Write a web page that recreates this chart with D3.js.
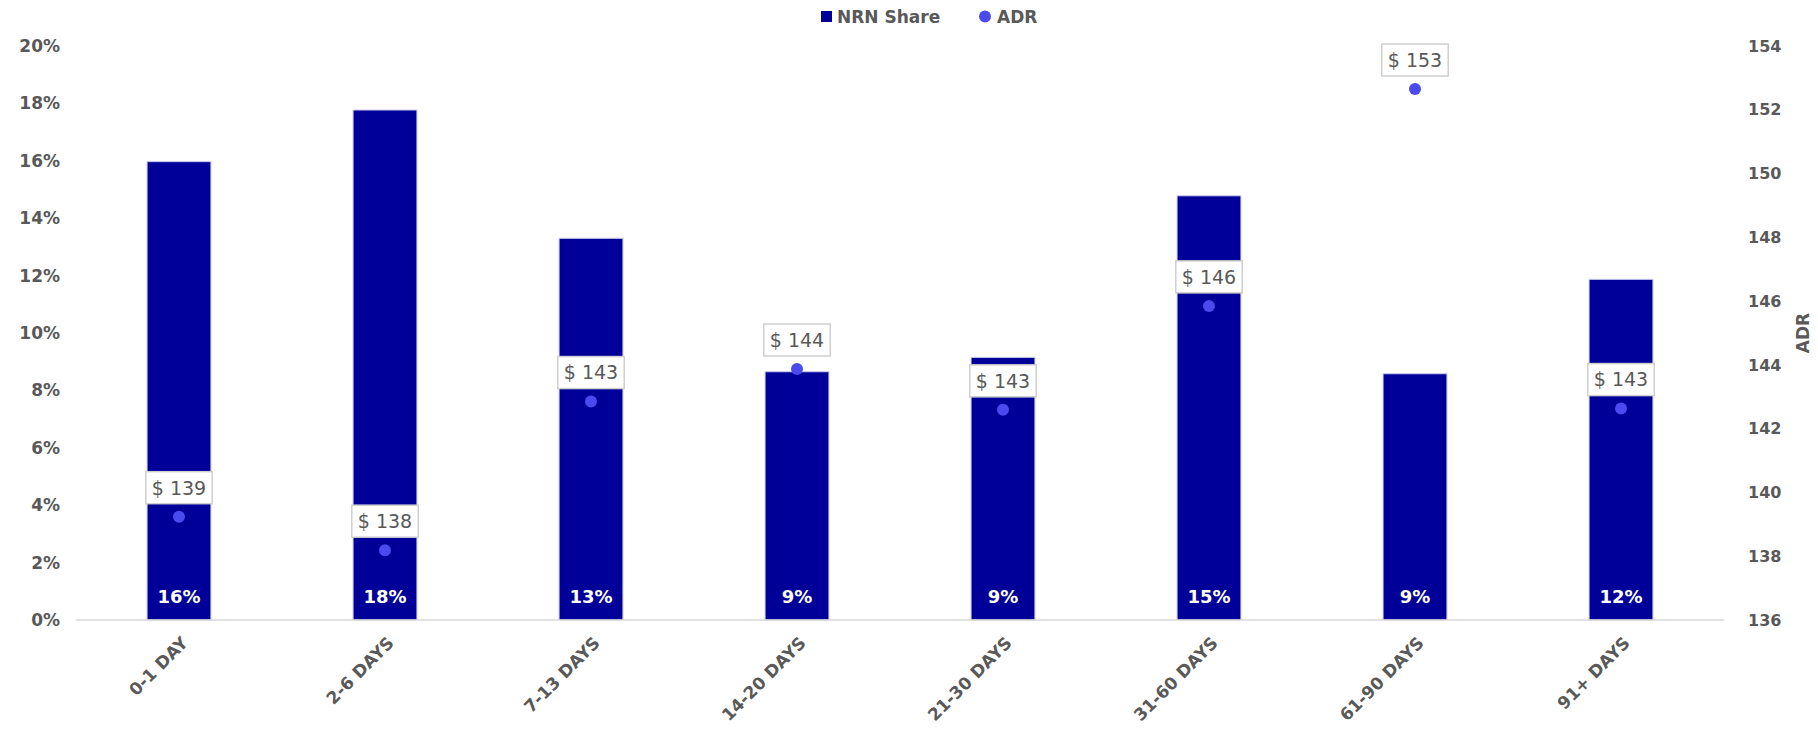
<!DOCTYPE html>
<html>
<head>
<meta charset="utf-8">
<script src="https://cdn.jsdelivr.net/npm/d3@7"></script>
<style>
  html, body { margin: 0; padding: 0; background: #ffffff; }
  svg { display: block; font-family: "DejaVu Sans", sans-serif; }
</style>
</head>
<body>
<svg id="chart" width="1818" height="731"></svg>
<script>
// ---- data ----
const categories = ["0-1 DAY", "2-6 DAYS", "7-13 DAYS", "14-20 DAYS", "21-30 DAYS", "31-60 DAYS", "61-90 DAYS", "91+ DAYS"];
const nrnShare = [15.97, 17.77, 13.30, 8.65, 9.15, 14.78, 8.58, 11.87];   // percent
const adr = [139.24, 138.19, 142.85, 143.87, 142.59, 145.85, 152.65, 142.63];
const leftTicks = [0, 2, 4, 6, 8, 10, 12, 14, 16, 18, 20];
const rightTicks = [136, 138, 140, 142, 144, 146, 148, 150, 152, 154];
const seriesNames = ["NRN Share", "ADR"];

// ---- layout ----
const W = 1818, H = 731;
const margin = { top: 46, right: 94, bottom: 111, left: 76 };
const barColor = "#000099";
const dotColor = "#4a4aef";
const textColor = "#595959";

const svg = d3.select("#chart");

const x = d3.scaleBand()
  .domain(categories)
  .range([margin.left, W - margin.right])
  .paddingInner(0.69)
  .paddingOuter(0.345);

const yL = d3.scaleLinear().domain([0, 20]).range([H - margin.bottom, margin.top]);
const yR = d3.scaleLinear().domain([136, 154]).range([H - margin.bottom, margin.top]);

// left axis
const axL = svg.append("g")
  .attr("transform", `translate(${margin.left},0)`)
  .call(d3.axisLeft(yL).tickValues(leftTicks).tickFormat(d => d + "%").tickSize(0).tickPadding(16));
axL.select(".domain").remove();
axL.selectAll("text")
  .attr("fill", textColor).attr("font-size", 17).attr("font-weight", "bold")
  .attr("font-family", "DejaVu Sans, sans-serif");

// right axis
const axR = svg.append("g")
  .attr("transform", `translate(${W - margin.right},0)`)
  .call(d3.axisRight(yR).tickValues(rightTicks).tickFormat(d3.format("d")).tickSize(0).tickPadding(24));
axR.select(".domain").remove();
axR.selectAll("text")
  .attr("fill", textColor).attr("font-size", 16).attr("font-weight", "bold")
  .attr("font-family", "DejaVu Sans, sans-serif");

// right axis title
svg.append("text")
  .attr("transform", `translate(${1809},${(yR(136) + yR(154)) / 2}) rotate(-90)`)
  .attr("text-anchor", "middle")
  .attr("fill", textColor).attr("font-size", 17).attr("font-weight", "bold")
  .text("ADR");

// bars
svg.append("g").selectAll("rect")
  .data(categories)
  .join("rect")
  .attr("x", d => x(d))
  .attr("width", x.bandwidth())
  .attr("y", (d, i) => yL(nrnShare[i]))
  .attr("height", (d, i) => yL(0) - yL(nrnShare[i]))
  .attr("fill", barColor)
  .attr("stroke", "#c9c9ef")
  .attr("stroke-width", 1);

// baseline
svg.append("line")
  .attr("x1", margin.left).attr("x2", W - margin.right)
  .attr("y1", yL(0)).attr("y2", yL(0))
  .attr("stroke", "#d9d9d9").attr("stroke-width", 1.5);

// bar value labels
svg.append("g").selectAll("text")
  .data(categories)
  .join("text")
  .attr("x", d => x(d) + x.bandwidth() / 2)
  .attr("y", yL(0) - 17)
  .attr("text-anchor", "middle")
  .attr("fill", "#ffffff")
  .attr("font-size", 18).attr("font-weight", "bold")
  .text((d, i) => Math.round(nrnShare[i]) + "%");

// x axis labels
svg.append("g").selectAll("text")
  .data(categories)
  .join("text")
  .attr("transform", d => `translate(${x(d) + x.bandwidth() / 2 + 10},${yL(0) + 24}) rotate(-45)`)
  .attr("text-anchor", "end")
  .attr("fill", textColor)
  .attr("font-size", 17).attr("font-weight", "bold")
  .text(d => d);

// ADR dots
svg.append("g").selectAll("circle")
  .data(categories)
  .join("circle")
  .attr("cx", d => x(d) + x.bandwidth() / 2)
  .attr("cy", (d, i) => yR(adr[i]))
  .attr("r", 6)
  .attr("fill", dotColor);

// ADR labels with boxes
const lab = svg.append("g").selectAll("g")
  .data(categories)
  .join("g")
  .attr("transform", (d, i) => `translate(${x(d) + x.bandwidth() / 2},${yR(adr[i]) - 29})`);
lab.append("text")
  .attr("text-anchor", "middle")
  .attr("dy", "0.36em")
  .attr("fill", textColor)
  .attr("font-size", 19)
  .text((d, i) => "$ " + Math.round(adr[i]));
lab.each(function () {
  const g = d3.select(this);
  const bb = g.select("text").node().getBBox();
  g.insert("rect", "text")
    .attr("x", bb.x - 6).attr("width", bb.width + 12)
    .attr("y", -16).attr("height", 32)
    .attr("fill", "#ffffff")
    .attr("stroke", "#cfcfcf").attr("stroke-width", 1.5);
});

// legend
const leg = svg.append("g");
leg.append("rect").attr("x", 821).attr("y", 11).attr("width", 11).attr("height", 11).attr("fill", barColor);
leg.append("text").attr("x", 837).attr("y", 23).attr("fill", textColor)
  .attr("font-size", 17).attr("font-weight", "bold").text(seriesNames[0]);
leg.append("circle").attr("cx", 985).attr("cy", 16.5).attr("r", 6).attr("fill", dotColor);
leg.append("text").attr("x", 997).attr("y", 23).attr("fill", textColor)
  .attr("font-size", 17).attr("font-weight", "bold").text(seriesNames[1]);
</script>
</body>
</html>
